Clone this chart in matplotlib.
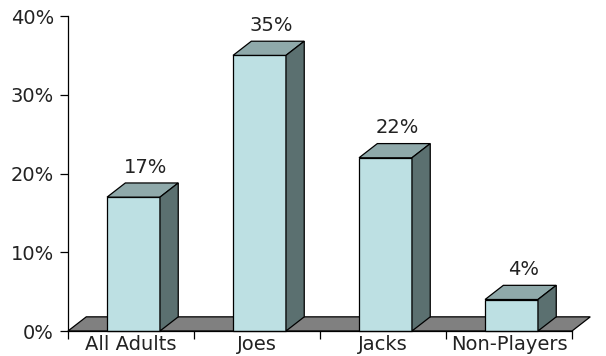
import matplotlib
matplotlib.use('Agg')
import matplotlib.pyplot as plt
from matplotlib.ticker import FuncFormatter

# Data
CATEGORIES = ['All Adults', 'Joes', 'Jacks', 'Non-Players']
VALUES = [17, 35, 22, 4]
Y_TICKS = [0, 10, 20, 30, 40]

# Styling
FRONT_COLOR = '#bde0e3'
TOP_COLOR = '#8fa9aa'
SIDE_COLOR = '#5b7070'
FLOOR_COLOR = '#808080'
TEXT_COLOR = '#222222'
DEPTH_X = 0.145   # depth offset in category units
DEPTH_Y = 1.8     # depth offset in percent units
BAR_WIDTH = 0.42
FONT_SIZE = 14


def draw_box(ax, x0, x1, v):
    """Draw one pseudo-3D bar"""
    kw = dict(edgecolor='black', linewidth=0.9, clip_on=False, zorder=3)
    ax.fill([x0, x1, x1, x0], [0, 0, v, v], facecolor=FRONT_COLOR, **kw)
    ax.fill([x0, x1, x1 + DEPTH_X, x0 + DEPTH_X], [v, v, v + DEPTH_Y, v + DEPTH_Y],
            facecolor=TOP_COLOR, **kw)
    ax.fill([x1, x1 + DEPTH_X, x1 + DEPTH_X, x1], [0, DEPTH_Y, v + DEPTH_Y, v],
            facecolor=SIDE_COLOR, **kw)


def main():
    plt.rcParams['font.family'] = 'DejaVu Sans'
    fig = plt.figure(figsize=(6.06, 3.56), dpi=100)
    ax = fig.add_axes([0.1122, 0.0702, 0.8317, 0.8848])

    n = len(CATEGORIES)
    ax.set_xlim(0, n)
    ax.set_ylim(0, 40)

    # floor
    ax.fill([0, n, n + DEPTH_X, DEPTH_X], [0, 0, DEPTH_Y, DEPTH_Y],
            facecolor=FLOOR_COLOR, edgecolor='black', linewidth=0.9,
            clip_on=False, zorder=2)

    for i, v in enumerate(VALUES):
        center = i + 0.5 + 0.02
        x0 = center - BAR_WIDTH / 2
        x1 = center + BAR_WIDTH / 2
        draw_box(ax, x0, x1, v)
        ax.text(center + DEPTH_X / 2 + 0.02, v + DEPTH_Y + 0.8, f'{v}%',
                ha='center', va='bottom', fontsize=FONT_SIZE, color=TEXT_COLOR)

    for side in ['top', 'right']:
        ax.spines[side].set_visible(False)
    ax.spines['left'].set_linewidth(0.9)
    ax.spines['bottom'].set_linewidth(0.9)
    ax.spines['left'].set_zorder(4)
    ax.spines['bottom'].set_zorder(4)

    ax.set_yticks(Y_TICKS)
    ax.yaxis.set_major_formatter(FuncFormatter(lambda y, _: f'{int(y)}%'))
    ax.tick_params(axis='y', length=6, width=0.9, labelsize=FONT_SIZE,
                   labelcolor=TEXT_COLOR, pad=4)

    ax.set_xticks(range(n + 1))
    ax.set_xticklabels([])
    ax.set_xticks([i + 0.5 for i in range(n)], minor=True)
    ax.set_xticklabels(CATEGORIES, minor=True)
    ax.tick_params(axis='x', which='major', length=6, width=0.9)
    ax.tick_params(axis='x', which='minor', length=0, labelsize=FONT_SIZE,
                   labelcolor=TEXT_COLOR, pad=3)

    fig.savefig('out.png', dpi=100)
    plt.close(fig)


if __name__ == "__main__":
    main()
